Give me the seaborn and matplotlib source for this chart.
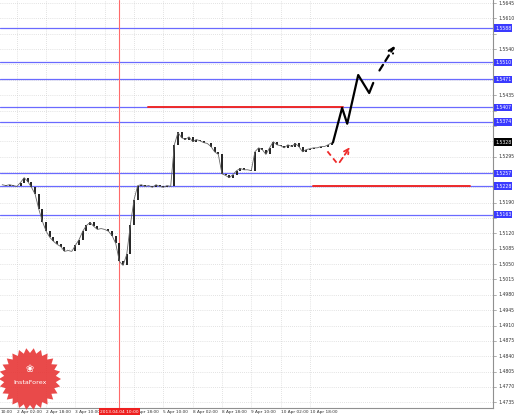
import matplotlib
matplotlib.use("Agg")
import matplotlib.pyplot as plt
import matplotlib.transforms as mtransforms
from matplotlib.patches import Polygon
import numpy as np
import pandas as pd
import seaborn as sns

# 2-hour bars, bar 0 = 2 Apr 02:00, first close is bar -4
first_bar = -4
closes = [
    1.5231, 1.5229, 1.5231, 1.5229, 1.5227, 1.5236, 1.5247, 1.5238, 1.5225, 1.5209,
    1.5175, 1.5147, 1.5125, 1.5111, 1.5102, 1.5095, 1.5090, 1.5079, 1.5081, 1.5079,
    1.5093, 1.5106, 1.5125, 1.5138, 1.5145, 1.5136, 1.5129, 1.5131, 1.5129, 1.5125,
    1.5115, 1.5097, 1.5056, 1.5047, 1.5072, 1.5140, 1.5197, 1.5229, 1.5231, 1.5227,
    1.5229, 1.5225, 1.5231, 1.5227, 1.5225, 1.5229, 1.5227, 1.5322, 1.5350, 1.5338,
    1.5334, 1.5340, 1.5329, 1.5334, 1.5331, 1.5327, 1.5325, 1.5318, 1.5306, 1.5300,
    1.5256, 1.5252, 1.5247, 1.5254, 1.5263, 1.5268, 1.5265, 1.5265, 1.5263, 1.5306,
    1.5315, 1.5311, 1.5300, 1.5315, 1.5329, 1.5322, 1.5320, 1.5315, 1.5322, 1.5318,
    1.5325, 1.5318, 1.5306, 1.5311, 1.5313, 1.5315, 1.5315, 1.5318, 1.5318, 1.5322,
    1.5327,
]

# forecast path (solid), then dashed continuation
forecast_bars = [86.3, 88.8, 90.2, 93.2, 96.2, 97.3]
forecast_prices = [1.5327, 1.5406, 1.5370, 1.5481, 1.5440, 1.5463]
dash_bars = [98.6, 103.6]
dash_prices = [1.5486, 1.5553]

# red dashed "V" arrow
v_bars = [84.8, 87.7, 91.4]
v_prices = [1.5307, 1.5277, 1.5322]

blue_levels = [1.5588, 1.5510, 1.5471, 1.5407, 1.5374, 1.5257, 1.5228, 1.5163]
red_levels = [1.5407, 1.5228]
red_spans = [(35.8, 89.1), (80.9, 123.8)]
current_price = 1.5328

y_ticks = [round(1.5645 - 0.0035 * k, 4) for k in range(27)]
x_tick_bars = [-8, 0, 8, 16, 24, 32, 40, 48, 56, 64, 72, 80]
x_tick_labels = ["10:00", "2 Apr 02:00", "2 Apr 18:00", "3 Apr 10:00",
                 "", "Apr 18:00", "5 Apr 10:00", "8 Apr 02:00",
                 "8 Apr 18:00", "9 Apr 10:00", "10 Apr 02:00", "10 Apr 18:00"]
vline_bar = 28
vline_label = "2013.04.04 10:00"

sns.set_style("white")
plt.rcParams["font.family"] = ["DejaVu Sans"]

fig = plt.figure(figsize=(5.18, 4.2), dpi=100)
ax = fig.add_axes([0, 12 / 420, 493 / 518, 408 / 420])
ax.set_xlim(-4.6, 130)
ax.set_ylim(1.4722, 1.5652)

# grid
for yt in y_ticks:
    ax.axhline(yt, color="#c8c8c8", lw=0.5, ls=(0, (1, 2)), zorder=0)
for xb in x_tick_bars:
    ax.axvline(xb, color="#c8c8c8", lw=0.5, ls=(0, (1, 2)), zorder=0)

# levels
for lv in blue_levels:
    ax.axhline(lv, color="#6a6aff", lw=0.9, zorder=1)
for lv, (a, b) in zip(red_levels, red_spans):
    ax.plot([a, b], [lv, lv], color="#ee2a2a", lw=1.4, zorder=2)

ax.axvline(vline_bar, color="#ff6a6a", lw=0.8, zorder=1)

# candles: open = previous close
df = pd.DataFrame({"bar": np.arange(first_bar, first_bar + len(closes)),
                   "close": closes})
df["open"] = df["close"].shift(1).fillna(df["close"])
ax.vlines(df["bar"], df["open"], df["close"], color="#222222", lw=1.4, zorder=3)
sns.lineplot(data=df, x="bar", y="close", color="#666666", lw=0.6, ax=ax,
             zorder=3)

# forecast
fc = pd.DataFrame({"bar": forecast_bars, "price": forecast_prices})
sns.lineplot(data=fc, x="bar", y="price", color="black", lw=1.6, ax=ax,
             sort=False, zorder=4)
ax.annotate("", xy=(dash_bars[1], dash_prices[1]),
            xytext=(dash_bars[0], dash_prices[0]),
            arrowprops=dict(arrowstyle="->", color="black", lw=1.6,
                            linestyle=(0, (3, 2)), mutation_scale=9),
            zorder=4)

vv = pd.DataFrame({"bar": v_bars[:2], "price": v_prices[:2]})
sns.lineplot(data=vv, x="bar", y="price", color="#ee2a2a", lw=1.3, ax=ax,
             sort=False, linestyle=(0, (3, 2)), zorder=4)
ax.annotate("", xy=(v_bars[2], v_prices[2]), xytext=(v_bars[1], v_prices[1]),
            arrowprops=dict(arrowstyle="->", color="#ee2a2a", lw=1.3,
                            linestyle=(0, (3, 2)), mutation_scale=9),
            zorder=4)

# axes styling
for s in ["top", "left"]:
    ax.spines[s].set_visible(False)
ax.spines["right"].set_color("#909090")
ax.spines["bottom"].set_color("#909090")
ax.spines["right"].set_linewidth(0.8)
ax.spines["bottom"].set_linewidth(0.8)
ax.set_xticks([])
ax.set_yticks([])
ax.set_xlabel("")
ax.set_ylabel("")

ytr = mtransforms.blended_transform_factory(ax.transAxes, ax.transData)
xtr = mtransforms.blended_transform_factory(ax.transData, ax.transAxes)
boxed = blue_levels + [current_price]
for yt in y_ticks:
    ax.plot([1.0, 1.006], [yt, yt], transform=ytr, color="#909090", lw=0.5,
            clip_on=False)
    if min(abs(yt - b) for b in boxed) < 0.0013:
        continue
    ax.text(1.012, yt, f"{yt:.4f}", transform=ytr, fontsize=3.3,
            color="#333333", va="center", ha="left", clip_on=False)
for lv in blue_levels:
    ax.text(1.004, lv, f"{lv:.4f}", transform=ytr, fontsize=3.3, color="white",
            va="center", ha="left", clip_on=False, zorder=6,
            bbox=dict(boxstyle="square,pad=0.25", fc="#3a3aff", ec="none"))
ax.text(1.004, current_price, f"{current_price:.4f}", transform=ytr,
        fontsize=3.3, color="white", va="center", ha="left", clip_on=False,
        zorder=6, bbox=dict(boxstyle="square,pad=0.25", fc="black", ec="none"))

for xb, lab in zip(x_tick_bars, x_tick_labels):
    if not lab:
        continue
    xpos = xb
    if lab == "10:00":
        xpos = -4.5
    if lab == "Apr 18:00":
        xpos = 33.2
    ax.text(xpos, -0.006, lab, transform=xtr, fontsize=3.1, color="#333333",
            va="top", ha="left", clip_on=False)
ax.text(vline_bar, -0.004, vline_label, transform=xtr, fontsize=3.2,
        color="white", va="top", ha="center", clip_on=False, zorder=6,
        bbox=dict(boxstyle="square,pad=0.3", fc="#ee2020", ec="none"))

# logo starburst
cx, cy, r1, r2, n = 30, 379, 31, 26, 26
ang = np.linspace(0, 2 * np.pi, 2 * n, endpoint=False)
rad = np.where(np.arange(2 * n) % 2 == 0, r1, r2)
pts = np.column_stack([(cx + rad * np.cos(ang)) / 518,
                       1 - (cy + rad * np.sin(ang)) / 420])
fig.patches.append(Polygon(pts, closed=True, transform=fig.transFigure,
                           fc="#e83a3a", ec="none", alpha=0.92, zorder=5))
fig.text(cx / 518, 1 - 369 / 420, "\u2740", color="white", fontsize=7,
         ha="center", va="center", zorder=6)
fig.text(cx / 518, 1 - 383 / 420, "InstaForex", color="white", fontsize=4.6,
         ha="center", va="center", zorder=6)

fig.savefig("out.png", dpi=100, facecolor="white")
